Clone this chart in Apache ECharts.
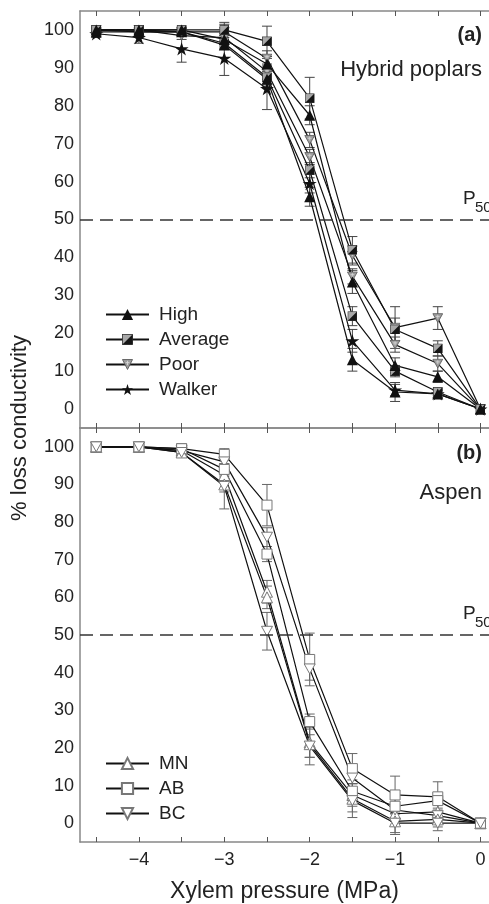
<!DOCTYPE html>
<html>
<head>
<meta charset="utf-8">
<script src="https://cdn.jsdelivr.net/npm/echarts@6/dist/echarts.min.js"></script>
<style>
  html, body { margin: 0; padding: 0; background: #fff; }
  #main { width: 489px; height: 904px; }
</style>
</head>
<body>
<div id="main"></div>
<script>
(function () {

  // xylem pressure (MPa)
  var pressure = [-4.5, -4, -3.5, -3, -2.5, -2, -1.5, -1, -0.5, 0];
  var xTicks = [-4.5, -4, -3.5, -3, -2.5, -2, -1.5, -1, -0.5, 0];
  var xLabels = [-4, -3, -2, -1, 0];
  var yLabels = [0, 10, 20, 30, 40, 50, 60, 70, 80, 90, 100];

  // (a) hybrid poplars, % loss conductivity (two lines per class)
  var highA = [100, 100, 100, 97.5, 91, 77.5, 33.5, 11.5, 8.5, 0];
  var highB = [99.5, 99.5, 99.5, 96, 87, 56, 13, 4.5, 4, 0];
  var averageA = [100, 100, 100, 100, 97, 82, 42, 21, 16, 0];
  var averageB = [100, 99.5, 99.5, 96.5, 87.5, 63, 24.5, 10, 4.5, 0];
  var poorA = [100, 100, 99.5, 99.5, 92.5, 71, 40.5, 21.5, 24, 0];
  var poorB = [100, 100, 98.5, 98, 89, 66.5, 35, 17, 12, 0];
  var walker = [99, 98, 95, 92.5, 84.5, 59.5, 18, 5, 4, 0];

  var highAErr = [0.5, 0.5, 0.5, 1, 1.5, 2.5, 3, 2, 1.5, 0];
  var highBErr = [0.5, 0.5, 0.5, 1, 2, 2.5, 3, 2.5, 1, 0];
  var averageAErr = [0.5, 0.5, 1, 1.5, 4, 5.5, 3.5, 3, 2, 0];
  var averageBErr = [0.5, 0.5, 1, 1.5, 2, 2, 2.5, 1.5, 1, 0];
  var poorAErr = [0.5, 0.5, 1, 2.5, 2, 2, 2.5, 5.5, 3, 0];
  var poorBErr = [0.5, 0.5, 1, 1.5, 2, 2, 2, 2, 2, 0];
  var walkerErr = [1, 1.5, 3.5, 4.5, 5.5, 2.5, 3, 1.5, 1, 0];

  // (b) aspen
  var mnA = [100, 100, 99, 92.5, 61.5, 21.5, 7.5, 2.5, 3, 0];
  var mnB = [100, 100, 98.5, 90, 60, 21, 6.5, 0.5, 1, 0];
  var abA = [100, 100, 99.5, 98, 84.5, 43.5, 14.5, 7.5, 7, 0];
  var abB = [100, 100, 99.5, 94, 71.5, 27, 8.5, 4.5, 6, 0];
  var bcA = [100, 100, 99, 96, 76, 41, 12, 3.5, 2, 0];
  var bcB = [100, 100, 98.5, 89.5, 51, 20.5, 6, 0, 0, 0];

  var mnAErr = [0.5, 0.5, 1, 1.5, 3, 4, 3, 2, 2, 0];
  var mnBErr = [0.5, 0.5, 1, 2, 3, 5.5, 5, 3, 2, 0];
  var abAErr = [0.5, 0.5, 1, 1.5, 5.5, 7, 4, 5, 4, 0];
  var abBErr = [0.5, 0.5, 1, 1.5, 2, 2, 2, 2, 2, 0];
  var bcAErr = [0.5, 0.5, 1, 1.5, 2.5, 3, 3, 2, 1.5, 0];
  var bcBErr = [0.5, 0.5, 1, 6, 5, 3, 3, 3, 2, 0];

  var FONT = 'Liberation Sans, Arial, sans-serif';

  function svgSymbol(svg) {
    return 'image://data:image/svg+xml;utf8,' + encodeURIComponent(svg);
  }
  var halfSquare = svgSymbol("<svg xmlns='http://www.w3.org/2000/svg' width='20' height='20'>" +
    "<rect x='1' y='1' width='18' height='18' fill='#a8a8a8' stroke='#333' stroke-width='1.5'/>" +
    "<path d='M19 1 L19 19 L1 19 Z' fill='#151515'/></svg>");
  var greyDown = svgSymbol("<svg xmlns='http://www.w3.org/2000/svg' width='20' height='18'>" +
    "<path d='M1 1 L19 1 L10 17 Z' fill='#9c9c9c' stroke='#5a5a5a' stroke-width='1.5'/>" +
    "<path d='M10 3 L10 10 M6.5 6 L13.5 6' stroke='#d8d8d8' stroke-width='1.5'/></svg>");
  var downTri = 'path://M0,0L10,0L5,9Z';
  var star = 'path://M5,0L6.2,3.6L10,3.6L6.9,5.8L8.1,9.5L5,7.2L1.9,9.5L3.1,5.8L0,3.6L3.8,3.6Z';

  function pts(ys) {
    return pressure.map(function (x, i) { return [x, ys[i]]; });
  }
  function errPts(ys, es) {
    return pressure.map(function (x, i) { return [x, ys[i], es[i]]; });
  }

  function lineSeries(name, ys, xi, symbol, size, style) {
    return {
      name: name, type: 'line', xAxisIndex: xi, yAxisIndex: xi / 2,
      data: pts(ys), symbol: symbol, symbolSize: size, symbolKeepAspect: true,
      lineStyle: { color: '#111', width: 1.2 },
      itemStyle: style, z: 3, animation: false
    };
  }

  function errSeries(ys, es, xi, color) {
    return {
      type: 'custom', xAxisIndex: xi, yAxisIndex: xi / 2, z: 1,
      data: errPts(ys, es), silent: true, animation: false,
      renderItem: function (params, api) {
        var x = api.value(0), y = api.value(1), e = api.value(2);
        if (!e) return;
        var t = api.coord([x, y + e]), b = api.coord([x, y - e]);
        var st = { stroke: color, lineWidth: 1 };
        return {
          type: 'group', children: [
            { type: 'line', shape: { x1: t[0], y1: t[1], x2: b[0], y2: b[1] }, style: st },
            { type: 'line', shape: { x1: t[0] - 5, y1: t[1], x2: t[0] + 5, y2: t[1] }, style: st },
            { type: 'line', shape: { x1: b[0] - 5, y1: b[1], x2: b[0] + 5, y2: b[1] }, style: st }
          ]
        };
      }
    };
  }

  function p50Line(xi) {
    return {
      type: 'line', xAxisIndex: xi, yAxisIndex: xi / 2, data: [], silent: true,
      markLine: {
        symbol: 'none', silent: true, label: { show: false },
        lineStyle: { color: '#333', type: [13, 7], width: 1.5 },
        data: [{ yAxis: 50 }]
      }
    };
  }

  function fmt(v) { return v < 0 ? '\u2212' + Math.abs(v) : String(v); }

  function xAxis(grid, pos, labels, name) {
    return {
      type: 'value', gridIndex: grid, position: pos, min: -4.69, max: 0.1,
      axisLine: { onZero: false, lineStyle: { color: '#888', width: 1.5 } },
      axisTick: { inside: true, length: 5, customValues: xTicks, lineStyle: { color: '#555' } },
      axisLabel: {
        show: labels, customValues: xLabels, formatter: fmt, margin: 9,
        fontFamily: FONT, fontSize: 18, color: '#222'
      },
      splitLine: { show: false },
      name: name || '', nameLocation: 'middle', nameGap: 38,
      nameTextStyle: { fontFamily: FONT, fontSize: 23, color: '#222' }
    };
  }

  function yAxis(grid) {
    return {
      type: 'value', gridIndex: grid, min: -5, max: 105,
      axisLine: { onZero: false, lineStyle: { color: '#888', width: 1.5 } },
      axisTick: { show: false },
      axisLabel: { customValues: yLabels, margin: 6, fontFamily: FONT, fontSize: 18, color: '#222' },
      splitLine: { show: false }
    };
  }

  var aStyle = {
    High: { color: '#111' },
    Average: {},
    Poor: {},
    Walker: { color: '#111' }
  };
  var bStyle = { color: '#fff', borderColor: '#777', borderWidth: 1 };

  function legend(names, top) {
    return {
      data: names, orient: 'vertical', left: 100, top: top,
      itemWidth: 43, itemHeight: 14, itemGap: 6,
      textStyle: { fontFamily: FONT, fontSize: 19, color: '#222', lineHeight: 18, padding: [0, 0, 0, 5] },
      selectedMode: false
    };
  }

  function text(str, x, y, size, weight) {
    return {
      type: 'text', x: x, y: y,
      style: { text: str, fontFamily: FONT, fontSize: size, fontWeight: weight || 'normal', fill: '#222', textAlign: 'right', textVerticalAlign: 'middle' }
    };
  }
  function sub(str, x, y, size) {
    return {
      type: 'text', x: x, y: y,
      style: { text: str, fontFamily: FONT, fontSize: size, fill: '#222', textAlign: 'left', textVerticalAlign: 'middle' }
    };
  }

  var chart = echarts.init(document.getElementById('main'));

  var option = {
    backgroundColor: '#fff',
    animation: false,
    grid: [
      { left: 80, right: 0, top: 11, height: 417 },
      { left: 80, right: 0, top: 428, height: 417 }
    ],
    xAxis: [
      xAxis(0, 'bottom', false),
      xAxis(0, 'top', false),
      xAxis(1, 'bottom', true, 'Xylem pressure (MPa)'),
      xAxis(1, 'top', false)
    ],
    yAxis: [yAxis(0), yAxis(1)],
    legend: [
      legend(['High', 'Average', 'Poor', 'Walker'], 300),
      legend(['MN', 'AB', 'BC'], 749)
    ],
    graphic: [
      {
        type: 'text', x: 20, y: 428, rotation: Math.PI / 2,
        style: { text: '% loss conductivity', fontFamily: FONT, fontSize: 22, fill: '#222', textAlign: 'center', textVerticalAlign: 'middle' }
      },
      text('(a)', 482, 35, 20, 'bold'),
      text('Hybrid poplars', 482, 70, 22),
      sub('P', 463, 199, 19),
      sub('50', 475, 208, 15),
      text('(b)', 482, 453, 20, 'bold'),
      text('Aspen', 482, 493, 22),
      sub('P', 463, 614, 19),
      sub('50', 475, 623, 15)
    ],
    series: [
      p50Line(0), p50Line(2),
      errSeries(highA, highAErr, 0, '#444'),
      errSeries(highB, highBErr, 0, '#444'),
      errSeries(averageA, averageAErr, 0, '#444'),
      errSeries(averageB, averageBErr, 0, '#444'),
      errSeries(poorA, poorAErr, 0, '#444'),
      errSeries(poorB, poorBErr, 0, '#444'),
      errSeries(walker, walkerErr, 0, '#444'),
      lineSeries('Walker', walker, 0, star, 14, aStyle.Walker),
      lineSeries('Poor', poorB, 0, greyDown, 11, aStyle.Poor),
      lineSeries('Average', averageB, 0, halfSquare, 10, aStyle.Average),
      lineSeries('High', highB, 0, 'triangle', 11, aStyle.High),
      lineSeries('Poor', poorA, 0, greyDown, 11, aStyle.Poor),
      lineSeries('Average', averageA, 0, halfSquare, 10, aStyle.Average),
      lineSeries('High', highA, 0, 'triangle', 11, aStyle.High),

      errSeries(mnA, mnAErr, 2, '#666'),
      errSeries(mnB, mnBErr, 2, '#666'),
      errSeries(abA, abAErr, 2, '#666'),
      errSeries(abB, abBErr, 2, '#666'),
      errSeries(bcA, bcAErr, 2, '#666'),
      errSeries(bcB, bcBErr, 2, '#666'),
      lineSeries('MN', mnA, 2, 'triangle', 11, bStyle),
      lineSeries('AB', abA, 2, 'rect', 10, bStyle),
      lineSeries('BC', bcA, 2, downTri, 11, bStyle),
      lineSeries('MN', mnB, 2, 'triangle', 11, bStyle),
      lineSeries('AB', abB, 2, 'rect', 10, bStyle),
      lineSeries('BC', bcB, 2, downTri, 11, bStyle)
    ]
  };

  chart.setOption(option);

})();
</script>
</body>
</html>
